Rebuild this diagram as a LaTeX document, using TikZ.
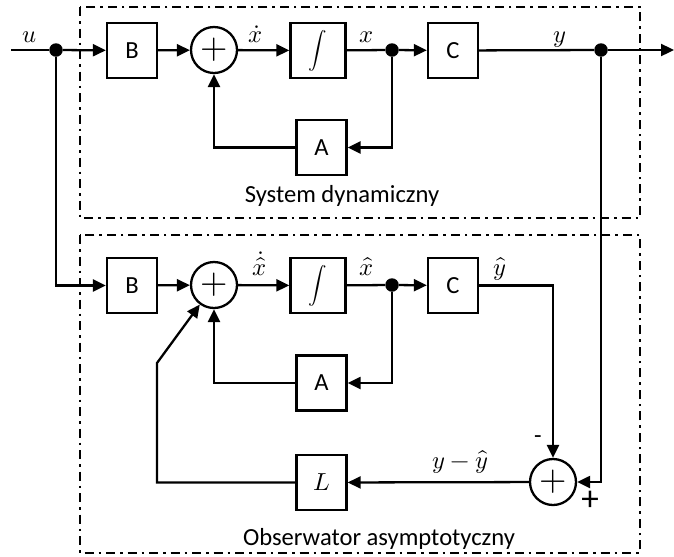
\documentclass[tikz,border=0pt]{standalone}
\usepackage{fontspec}
\usepackage{unicode-math}
\setmainfont{Carlito}
\usetikzlibrary{arrows.meta,positioning,calc}
\tikzset{
  blockbox/.style={
    draw,
    line width=1.3pt,
    minimum width=1cm,
    minimum height=1.1cm,
    inner sep=0pt,
    font=\fontsize{14}{16}\selectfont
  },
  sumnode/.style={
    draw,
    circle,
    line width=1.3pt,
    minimum size=0.92cm,
    inner sep=0pt,
    font=\fontsize{20}{20}\selectfont
  },
  junction/.style={
    circle,
    fill,
    inner sep=0pt,
    minimum size=0.27cm
  },
  arrow/.style={
    -{Triangle[length=0.26cm,width=0.24cm]},
    line width=1.3pt
  },
  wire/.style={line width=1.3pt},
  groupbox/.style={
    line width=1.3pt,
    dash pattern=on 0.18cm off 0.1cm on 0.05cm off 0.1cm
  },
  siglabel/.style={anchor=base, font=\fontsize{14}{16}\selectfont}
}
\newcommand{\intsym}{{\fontsize{10.5}{12}\selectfont$\displaystyle\int$}}

\begin{document}
\begin{tikzpicture}[x=0.2mm, y=-0.2mm]
\useasboundingbox (0,0) rectangle (674,556);
\draw[groupbox] (80,7) rectangle (640,218);
\draw[groupbox] (80,235) rectangle (640,553);
\node[siglabel] (sysname) at (342,202) {System dynamiczny};
\node[siglabel] (obsname) at (379,545) {Obserwator asymptotyczny};
% system dynamiczny
\coordinate (in) at (11,50);
\coordinate (out) at (674,50);
\node[junction] (usplit) at (56,50) {};
\node[blockbox] (B1) at (132,50.5) {B};
\node[sumnode] (sum1) at (214,50) {$+$};
\node[blockbox, minimum width=1.1cm] (int1) at (318,50.5) {\intsym};
\node[junction] (xsplit) at (392,50) {};
\node[blockbox] (C1) at (453,50.5) {C};
\node[junction] (ysplit) at (601,50) {};
\node[blockbox] (A1) at (321.5,147.5) {A};
\node[siglabel] (ulbl) at (30,42) {$u$};
\node[siglabel] (xdlbl) at (256,42) {$\dot{x}$};
\node[siglabel] (xlbl) at (367,42) {$x$};
\node[siglabel] (ylbl) at (560,42) {$y$};
\draw[wire] (in) -- (usplit);
\draw[arrow] (usplit) -- (B1);
\draw[arrow] (B1) -- (sum1);
\draw[arrow] (sum1) -- (int1);
\draw[wire] (int1) -- (xsplit);
\draw[arrow] (xsplit) -- (C1);
\draw[wire] (C1) -- (ysplit);
\draw[arrow] (ysplit) -- (out);
\draw[arrow] (xsplit) |- (A1);
\draw[arrow] (A1) -| (sum1);
% obserwator
\node[blockbox] (B2) at (132,285.5) {B};
\node[sumnode] (sum2) at (214,285) {$+$};
\node[blockbox, minimum width=1.1cm] (int2) at (318,285.5) {\intsym};
\node[junction] (xhsplit) at (392,285) {};
\node[blockbox] (C2) at (453,285.5) {C};
\node[blockbox] (A2) at (321.5,383) {A};
\node[blockbox] (L) at (321.5,482.5) {$L$};
\node[sumnode] (sum3) at (553,482) {$+$};
\coordinate (bend) at (157,363);
\node[siglabel] (xdhlbl) at (260,275) {$\dot{\hat{x}}$};
\node[siglabel] (xhlbl) at (367,275) {$\hat{x}$};
\node[siglabel] (yhlbl) at (500,275) {$\hat{y}$};
\node[siglabel] (errlbl) at (460,468) {$y-\hat{y}$};
\node[siglabel] (minuslbl) at (538,443) {-};
\node[siglabel, font=\fontsize{20}{20}\selectfont] (pluslbl) at (590,510) {+};
\draw[arrow] (usplit) |- (B2);
\draw[arrow] (B2) -- (sum2);
\draw[arrow] (sum2) -- (int2);
\draw[wire] (int2) -- (xhsplit);
\draw[arrow] (xhsplit) -- (C2);
\draw[arrow] (xhsplit) |- (A2);
\draw[arrow] (A2) -| (sum2);
\draw[arrow] (C2) -| (sum3);
\draw[arrow] (ysplit) |- (sum3);
\draw[arrow] (sum3) -- (L);
\draw[arrow] (L) -| (bend) -- (sum2.234);
\end{tikzpicture}
\end{document}
